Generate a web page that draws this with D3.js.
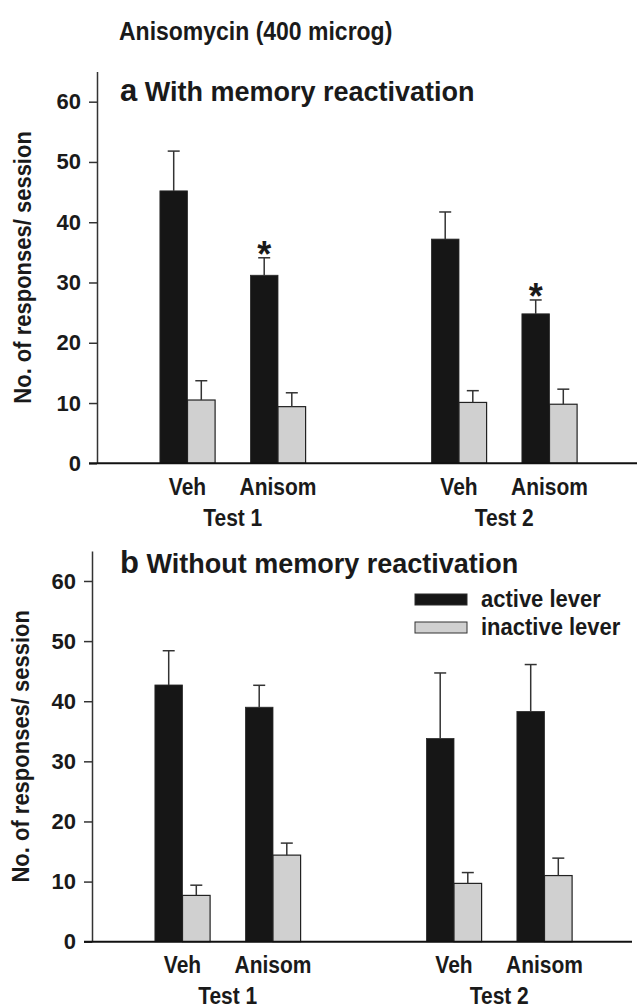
<!DOCTYPE html>
<html>
<head>
<meta charset="utf-8">
<script src="https://cdn.jsdelivr.net/npm/d3@7"></script>
<style>
  body { margin: 0; background: #fff; }
  svg text { font-family: "Liberation Sans", Arial, Helvetica, sans-serif; font-weight: bold; fill: #1a1a1a; }
</style>
</head>
<body>
<svg id="chart" width="638" height="1007"></svg>
<script>
// categories
let drugs = ["Veh", "Anisom"]
let tests = ["Test 1", "Test 2"]
let slots = ["Test 1|Veh", "Test 1|Anisom", "gap", "Test 2|Veh", "Test 2|Anisom"]
let barSlots = ["Test 1|Veh", "Test 1|Anisom", "Test 2|Veh", "Test 2|Anisom"]
let yTicks = [0, 10, 20, 30, 40, 50, 60]
let legendLabels = ["active lever", "inactive lever"]

// panel a: with memory reactivation
let activeA = [45.2, 31.2, 37.2, 24.8]
let activeErrA = [6.6, 2.9, 4.5, 2.3]
let inactiveA = [10.5, 9.4, 10.1, 9.8]
let inactiveErrA = [3.2, 2.3, 1.95, 2.5]
let starsA = [false, true, false, true]

// panel b: without memory reactivation
let activeB = [42.7, 39.0, 33.8, 38.3]
let activeErrB = [5.7, 3.65, 10.9, 7.8]
let inactiveB = [7.7, 14.4, 9.7, 11.0]
let inactiveErrB = [1.7, 2.0, 1.8, 2.9]
let starsB = [false, false, false, false]

let colors = { active: "#161616", inactive: "#d0d0d0" }

let svg = d3.select('#chart')

// the original lettering is a bit taller than Arial, stretch around the baseline
let stretch = (sel, s) => {
    sel.attr('transform', function () {
        let y = +d3.select(this).attr('y')
        return 'matrix(1,0,0,' + s + ',0,' + ((1 - s) * y) + ')'
    })
}

svg.append('text')
   .attr('x', 119)
   .attr('y', 40)
   .style('font-size', '23px')
   .text('Anisomycin (400 microg)')
   .call(stretch, 1.15)

let drawPanel = (cfg) => {
    let g = svg.append('g')

    let x = d3.scalePoint()
              .domain(slots)
              .range([cfg.left, cfg.left + 543])
              .padding(1)

    let y = d3.scaleLinear()
              .domain([0, 65])
              .range([cfg.bottom, cfg.bottom - 65 * cfg.unit])

    let barW = 27.6

    // y axis
    let yAxis = d3.axisLeft(y)
                  .tickValues(yTicks)
                  .tickSize(8)
                  .tickPadding(8)
                  .tickSizeOuter(0)
    let ya = g.append('g')
              .attr('transform', 'translate(' + cfg.left + ',0)')
              .call(yAxis)
    ya.select('.domain').attr('stroke', '#333').attr('stroke-width', 1.5)
    ya.selectAll('.tick line').attr('stroke', '#333').attr('stroke-width', 1.5)
    ya.selectAll('.tick text')
      .style('font-size', '22px')
      .style('font-family', '"Liberation Sans", Arial, sans-serif')
      .style('font-weight', 'bold')
      .attr('fill', '#1a1a1a')

    let rows = barSlots.map((s, i) => ({
        slot: s,
        active: cfg.active[i], activeErr: cfg.activeErr[i],
        inactive: cfg.inactive[i], inactiveErr: cfg.inactiveErr[i],
        star: cfg.stars[i]
    }))

    // bars
    let bars = g.selectAll('g.pair')
                .data(rows)
                .enter()
                .append('g')
                .attr('class', 'pair')

    bars.append('rect')
        .attr('x', (d) => x(d.slot) - barW)
        .attr('y', (d) => y(d.active))
        .attr('width', barW)
        .attr('height', (d) => y(0) - y(d.active))
        .attr('fill', colors.active)
        .attr('stroke', '#2a2a2a')
        .attr('stroke-width', 0.8)

    bars.append('rect')
        .attr('x', (d) => x(d.slot))
        .attr('y', (d) => y(d.inactive))
        .attr('width', barW)
        .attr('height', (d) => y(0) - y(d.inactive))
        .attr('fill', colors.inactive)
        .attr('stroke', '#222')
        .attr('stroke-width', 1.2)

    // error bars
    let errs = []
    rows.forEach((d) => {
        errs.push({ cx: x(d.slot) - barW / 2, v: d.active, e: d.activeErr })
        errs.push({ cx: x(d.slot) + barW / 2, v: d.inactive, e: d.inactiveErr })
    })
    g.selectAll('line.err')
     .data(errs)
     .enter()
     .append('line')
     .attr('class', 'err')
     .attr('x1', (d) => d.cx).attr('x2', (d) => d.cx)
     .attr('y1', (d) => y(d.v)).attr('y2', (d) => y(d.v + d.e))
     .attr('stroke', '#333').attr('stroke-width', 1.5)
    g.selectAll('line.cap')
     .data(errs)
     .enter()
     .append('line')
     .attr('class', 'cap')
     .attr('x1', (d) => d.cx - 6).attr('x2', (d) => d.cx + 6)
     .attr('y1', (d) => y(d.v + d.e)).attr('y2', (d) => y(d.v + d.e))
     .attr('stroke', '#333').attr('stroke-width', 1.5)

    // significance stars
    g.selectAll('text.star')
     .data(rows.filter((d) => d.star))
     .enter()
     .append('text')
     .attr('class', 'star')
     .attr('x', (d) => x(d.slot) - barW / 2)
     .attr('y', (d) => y(d.active + d.activeErr) + 9)
     .attr('text-anchor', 'middle')
     .style('font-size', '36px')
     .text('*')

    // x axis line
    g.append('line')
     .attr('x1', cfg.left - 8).attr('x2', cfg.left + 540)
     .attr('y1', y(0)).attr('y2', y(0))
     .attr('stroke', '#111').attr('stroke-width', 2)

    // drug labels
    g.selectAll('text.drug')
     .data(barSlots)
     .enter()
     .append('text')
     .attr('class', 'drug')
     .attr('x', (d) => x(d))
     .attr('y', y(0) + 31.5)
     .attr('text-anchor', 'middle')
     .style('font-size', '21px')
     .text((d) => d.split('|')[1])
     .call(stretch, 1.1)

    // test labels
    g.selectAll('text.test')
     .data(tests)
     .enter()
     .append('text')
     .attr('class', 'test')
     .attr('x', (d) => (x(d + '|' + drugs[0]) + x(d + '|' + drugs[1])) / 2)
     .attr('y', y(0) + 62.5)
     .attr('text-anchor', 'middle')
     .style('font-size', '21px')
     .text((d) => d)
     .call(stretch, 1.1)

    // y label
    g.append('text')
     .attr('transform', 'translate(' + cfg.ylabelX + ',' + y(32.5) + ') rotate(-90) scale(1,1.05)')
     .attr('text-anchor', 'middle')
     .style('font-size', '22px')
     .text('No. of responses/ session')

    // panel title
    let t = g.append('text')
             .attr('x', 120)
             .attr('y', cfg.titleY)
    t.append('tspan').style('font-size', '31px').text(cfg.letter)
    t.append('tspan').style('font-size', '27px').text(' ' + cfg.title)

    return { x: x, y: y }
}

drawPanel({
    left: 97, bottom: 463.3, unit: 6.027, ylabelX: 31, titleY: 101,
    letter: 'a', title: 'With memory reactivation',
    active: activeA, activeErr: activeErrA,
    inactive: inactiveA, inactiveErr: inactiveErrA, stars: starsA
})

drawPanel({
    left: 92, bottom: 941.7, unit: 6.012, ylabelX: 29, titleY: 573,
    letter: 'b', title: 'Without memory reactivation',
    active: activeB, activeErr: activeErrB,
    inactive: inactiveB, inactiveErr: inactiveErrB, stars: starsB
})

// legend (panel b)
let legend = svg.append('g')
legend.selectAll('rect')
      .data(legendLabels)
      .enter()
      .append('rect')
      .attr('x', 415)
      .attr('y', (d, i) => 594 + i * 28)
      .attr('width', 52)
      .attr('height', 11)
      .attr('fill', (d, i) => i === 0 ? colors.active : colors.inactive)
      .attr('stroke', (d, i) => i === 0 ? '#2a2a2a' : '#333')
      .attr('stroke-width', 1)
legend.selectAll('text')
      .data(legendLabels)
      .enter()
      .append('text')
      .attr('x', 481)
      .attr('y', (d, i) => 607 + i * 28)
      .style('font-size', '22px')
      .text((d) => d)
      .call(stretch, 1.05)
</script>
</body>
</html>
